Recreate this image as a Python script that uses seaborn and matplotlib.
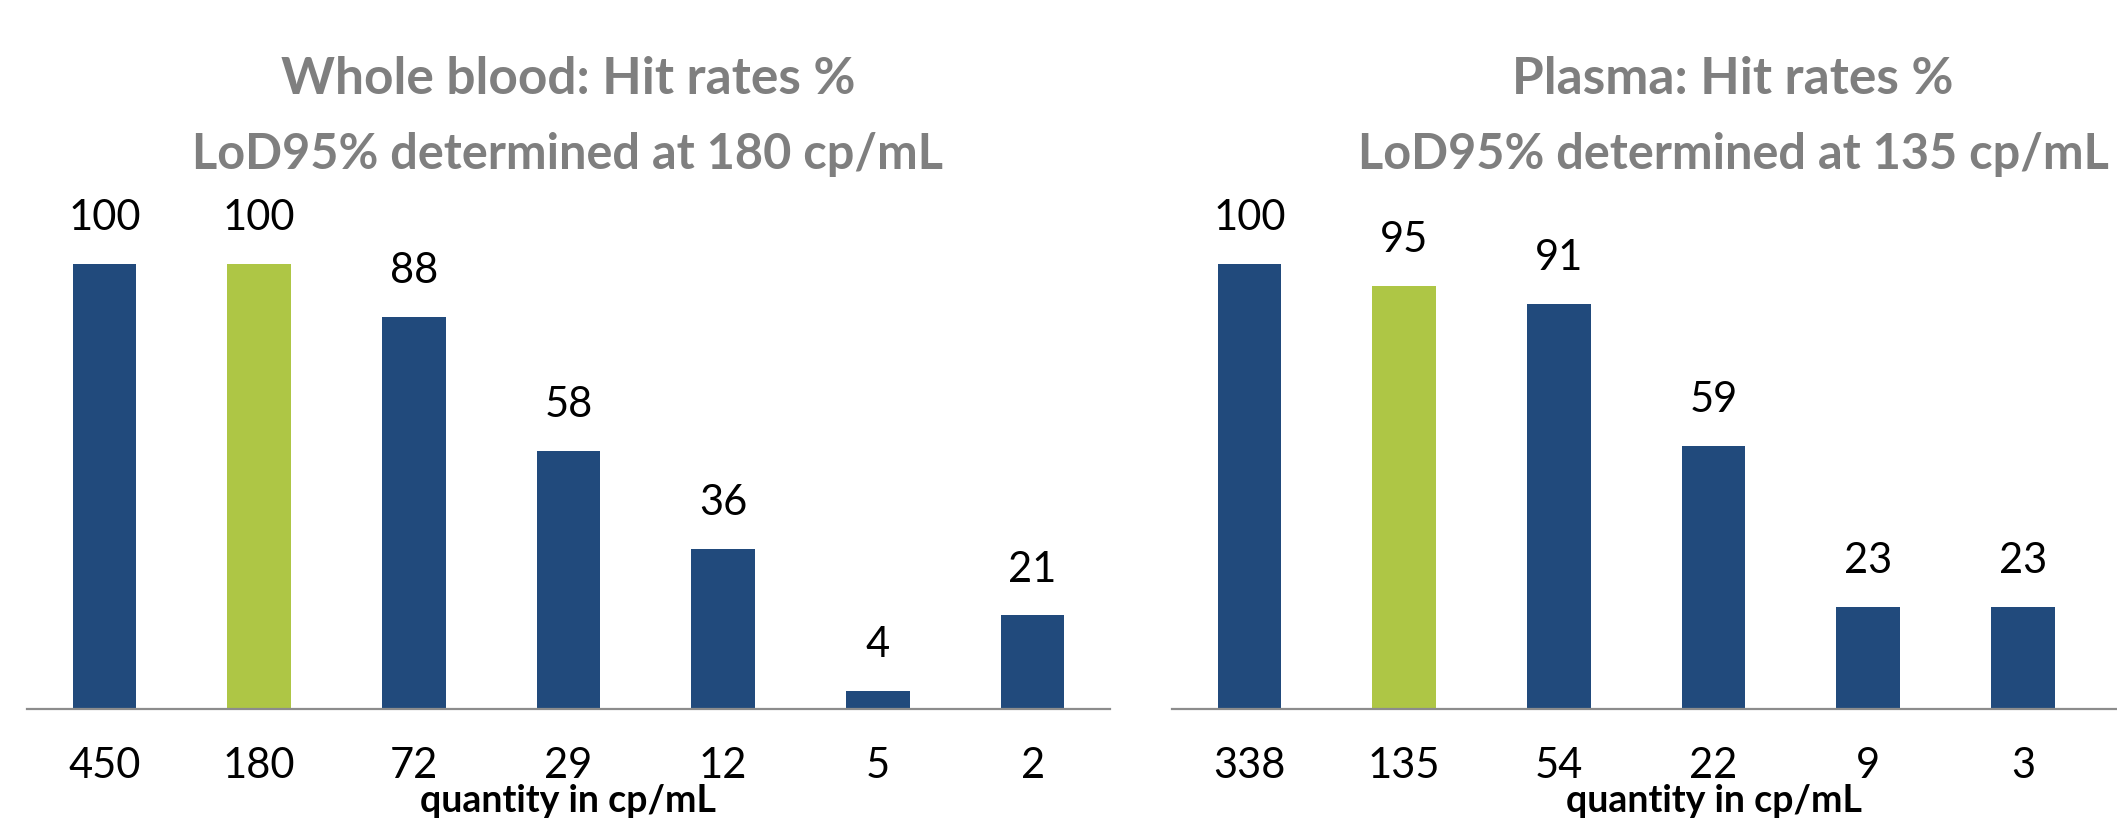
import matplotlib
matplotlib.use("Agg")
import matplotlib.pyplot as plt
import seaborn as sns
import pandas as pd

# Hit-rate data per sample matrix
wb_quantity = ["450", "180", "72", "29", "12", "5", "2"]
wb_hit_rate = [100, 100, 88, 58, 36, 4, 21]
plasma_quantity = ["338", "135", "54", "22", "9", "3"]
plasma_hit_rate = [100, 95, 91, 59, 23, 23]
wb_lod_label = "180"
plasma_lod_label = "135"

wb_title = "Whole blood: Hit rates %"
wb_subtitle = "LoD95% determined at 180 cp/mL"
plasma_title = "Plasma: Hit rates %"
plasma_subtitle = "LoD95% determined at 135 cp/mL"
x_label = "quantity in cp/mL"

BLUE = "#214a7c"
GREEN = "#aec645"
GREY_TEXT = "#7f7f7f"
AXIS_GREY = "#8c8c8c"

sns.set_theme(style="white")
plt.rcParams["font.family"] = ["Lato", "DejaVu Sans"]

fig = plt.figure(figsize=(21.17, 8.28), dpi=100)

W, H = 2117.0, 828.0
base_y = 710.0
ax_h_px = 445.4 * 1.2
ax_w_px = 1083.0
ax_left = fig.add_axes([27 / W, 1 - base_y / H, ax_w_px / W, ax_h_px / H])
ax_right = fig.add_axes([1172 / W, 1 - base_y / H, ax_w_px / W, ax_h_px / H])


def draw_panel(ax, cats, vals, lod):
    df = pd.DataFrame({"quantity": cats, "hit": vals})
    palette = {c: (GREEN if c == lod else BLUE) for c in cats}
    sns.barplot(data=df, x="quantity", y="hit", hue="quantity", order=cats,
                palette=palette, width=0.41, legend=False, ax=ax,
                saturation=1, edgecolor="none")
    for cont in ax.containers:
        ax.bar_label(cont, fmt="%d", padding=20, fontsize=30, color="black")
    ax.set_xlim(-0.5, 6.5)
    ax.set_ylim(0, 120)
    ax.set_yticks([])
    ax.set_ylabel("")
    ax.set_xlabel(x_label, fontsize=27, fontweight="bold", color="black")
    ax.xaxis.set_label_coords(0.5, -(784 - base_y) / ax_h_px)
    ax.tick_params(axis="x", length=0, pad=27, labelsize=30, colors="black")
    for side in ["top", "left", "right"]:
        ax.spines[side].set_visible(False)
    ax.spines["bottom"].set_color(AXIS_GREY)
    ax.spines["bottom"].set_linewidth(1.6)
    ax.patch.set_alpha(0)


draw_panel(ax_left, wb_quantity, wb_hit_rate, wb_lod_label)
draw_panel(ax_right, plasma_quantity, plasma_hit_rate, plasma_lod_label)

fig.text(568 / W, 1 - 80 / H, wb_title, ha="center", va="center",
         fontsize=37, fontweight="bold", color=GREY_TEXT)
fig.text(568 / W, 1 - 155 / H, wb_subtitle, ha="center", va="center",
         fontsize=35, fontweight="bold", color=GREY_TEXT)
fig.text(1733 / W, 1 - 80 / H, plasma_title, ha="center", va="center",
         fontsize=37, fontweight="bold", color=GREY_TEXT)
fig.text(1733 / W, 1 - 155 / H, plasma_subtitle, ha="center", va="center",
         fontsize=35, fontweight="bold", color=GREY_TEXT)

fig.savefig("out.png", dpi=100, facecolor="white")
